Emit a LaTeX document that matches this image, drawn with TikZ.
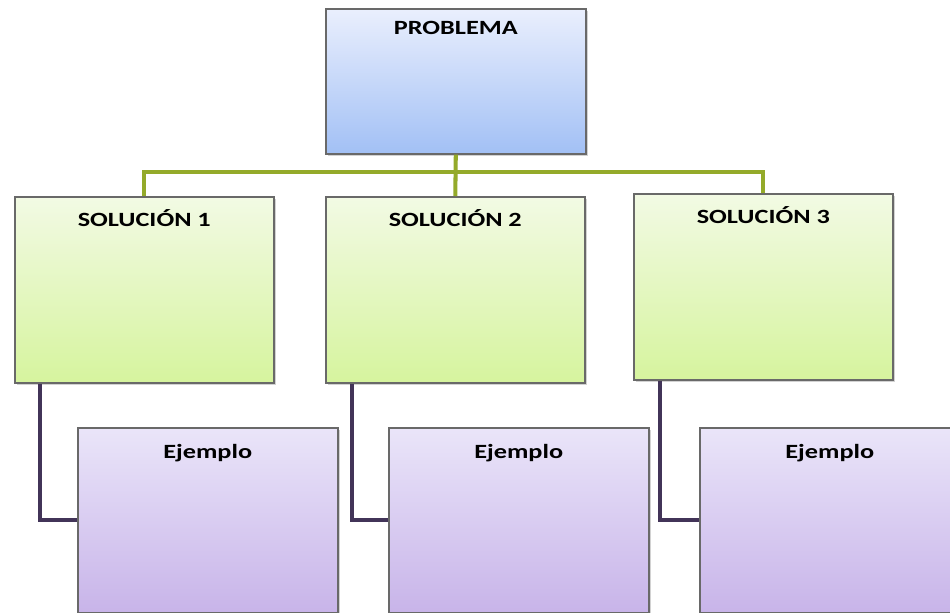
\documentclass[tikz,border=0pt]{standalone}
\usepackage{fontspec}
\setmainfont[FakeStretch=1.3]{Carlito}
\usetikzlibrary{shadows}

\definecolor{probtop}{RGB}{234,239,253}
\definecolor{probbot}{RGB}{162,192,245}
\definecolor{soltop}{RGB}{242,250,228}
\definecolor{solbot}{RGB}{214,244,158}
\definecolor{ejtop}{RGB}{234,229,249}
\definecolor{ejbot}{RGB}{200,180,233}
\definecolor{branchgreen}{RGB}{148,170,42}
\definecolor{legpurple}{RGB}{66,52,88}
\definecolor{boxedge}{RGB}{105,105,105}

\begin{document}
\begin{tikzpicture}[
    card/.style={rectangle,draw=boxedge,line width=0.9pt,anchor=north west,
        inner xsep=0pt,inner ysep=0pt,font=\bfseries\fontsize{11.5}{13}\selectfont,
        drop shadow={shadow xshift=1.2pt,shadow yshift=-1.2pt,opacity=0.35}},
    probbox/.style={card,top color=probtop,bottom color=probbot,
        minimum width=5.2cm,text height=0.52cm,text depth=2.38cm},
    solbox/.style={card,top color=soltop,bottom color=solbot,
        minimum width=5.18cm,text height=0.6cm,text depth=3.12cm},
    ejbox/.style={card,top color=ejtop,bottom color=ejbot,
        minimum width=5.2cm,text height=0.62cm,text depth=3.08cm},
    branch/.style={draw=branchgreen,line width=2.3pt},
    leg/.style={draw=legpurple,line width=2.3pt}
]
    \useasboundingbox (0,0) rectangle (19,-12.24);
    \fill[white] (0,0) rectangle (19,-12.24);

    \node[probbox] (prob) at (6.5,-0.16) {PROBLEMA};

    \node[solbox] (sol1) at (0.28,-3.92) {SOLUCIÓN 1};
    \node[solbox] (sol2) at (6.5,-3.92) {SOLUCIÓN 2};
    \node[solbox] (sol3) at (12.66,-3.86) {SOLUCIÓN 3};

    \node[ejbox] (ej1) at (1.54,-8.54) {Ejemplo};
    \node[ejbox] (ej2) at (7.76,-8.54) {Ejemplo};
    \node[ejbox] (ej3) at (13.98,-8.54) {Ejemplo};

    \coordinate (bar) at (0,-3.44);
    \draw[branch] (prob.south) -- (sol2.north);
    \draw[branch] (sol1.north) |- (sol3.north |- bar) -- (sol3.north);

    \draw[leg] ([xshift=0.52cm]sol1.south west) |- (ej1.west);
    \draw[leg] ([xshift=0.54cm]sol2.south west) |- (ej2.west);
    \draw[leg] ([xshift=0.54cm]sol3.south west) |- (ej3.west);
\end{tikzpicture}
\end{document}
